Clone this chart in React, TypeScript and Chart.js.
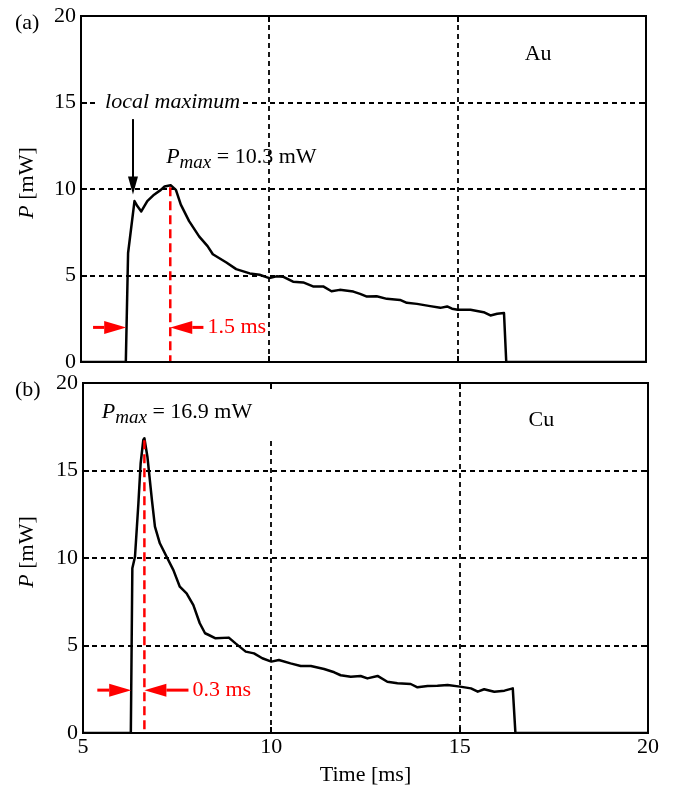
import React, { useEffect, useRef } from "react";
import { Chart, registerables } from "chart.js";

Chart.register(...registerables);

// ---------- data ----------
const AU_T = [5.0, 6.19, 6.25, 6.42, 6.5, 6.6, 6.76, 6.94, 7.12, 7.22, 7.38, 7.52, 7.65, 7.87, 8.14, 8.36, 8.5, 8.86, 9.12, 9.48, 9.74, 10.0, 10.19, 10.36, 10.63, 10.9, 11.16, 11.43, 11.65, 11.87, 12.23, 12.41, 12.59, 12.85, 13.12, 13.47, 13.65, 13.92, 14.27, 14.54, 14.72, 14.85, 15.0, 15.34, 15.69, 15.87, 16.05, 16.23, 16.29, 20.0];
const AU_P = [0, 0, 6.3, 9.3, 9.0, 8.7, 9.3, 9.67, 9.95, 10.15, 10.22, 9.95, 9.1, 8.14, 7.25, 6.7, 6.23, 5.75, 5.37, 5.12, 5.04, 4.85, 4.95, 4.93, 4.64, 4.6, 4.37, 4.37, 4.09, 4.17, 4.07, 3.94, 3.78, 3.8, 3.65, 3.59, 3.42, 3.36, 3.23, 3.13, 3.21, 3.08, 3.02, 3.02, 2.88, 2.69, 2.79, 2.83, 0, 0];

const CU_T = [5.0, 6.27, 6.31, 6.38, 6.47, 6.53, 6.6, 6.63, 6.71, 6.83, 6.91, 7.04, 7.22, 7.4, 7.57, 7.75, 7.93, 8.1, 8.24, 8.34, 8.52, 8.87, 9.05, 9.32, 9.54, 9.76, 10.0, 10.2, 10.51, 10.78, 11.05, 11.4, 11.67, 11.84, 12.11, 12.37, 12.55, 12.82, 13.08, 13.35, 13.7, 13.88, 14.15, 14.41, 14.68, 15.01, 15.3, 15.48, 15.65, 15.92, 16.19, 16.41, 16.48, 20.0];
const CU_P = [0, 0, 9.41, 10.07, 13.1, 15.4, 16.74, 16.84, 15.79, 13.31, 11.79, 10.84, 10.07, 9.31, 8.36, 7.98, 7.31, 6.27, 5.7, 5.6, 5.41, 5.45, 5.12, 4.65, 4.55, 4.27, 4.08, 4.17, 3.98, 3.83, 3.83, 3.66, 3.47, 3.3, 3.22, 3.26, 3.12, 3.26, 2.93, 2.84, 2.8, 2.61, 2.69, 2.7, 2.74, 2.65, 2.55, 2.36, 2.5, 2.36, 2.42, 2.55, 0, 0];

const X_TICKS = [5, 10, 15, 20];
const Y_TICKS = [0, 5, 10, 15, 20];
const X_GRID = [10, 15];
const Y_GRID = [5, 10, 15];

const Y_TITLE_ITALIC = "P";
const Y_TITLE_REST = " [mW]";
const X_TITLE = "Time [ms]";

// annotations (data units)
const AU_PANEL = {
  tag: "(a)",
  metal: "Au",
  metalAt: [16.78, 17.8],
  pmaxValue: "10.3 mW",
  pmaxAt: [7.26, 11.48],
  peakT: 7.37,
  peakP: 10.22,
  onsetT: 6.2,
  arrowP: 2.0,
  leftTailT: 5.32,
  rightTailT: 8.25,
  gapLabel: "1.5 ms",
  localMax: { text: "local maximum", textT: 5.64, textP: 15, arrowT: 6.38, fromP: 14.04, toP: 9.68 },
  gridGap: null as null | { x: number; fromP: number },
};

const CU_PANEL = {
  tag: "(b)",
  metal: "Cu",
  metalAt: [16.83, 17.89],
  pmaxValue: "16.9 mW",
  pmaxAt: [5.5, 18.0],
  peakT: 6.63,
  peakP: 16.84,
  onsetT: 6.28,
  arrowP: 2.45,
  leftTailT: 5.38,
  rightTailT: 7.8,
  gapLabel: "0.3 ms",
  localMax: null as null | { text: string; textT: number; textP: number; arrowT: number; fromP: number; toP: number },
  gridGap: { x: 10, fromP: 16.69 },
};

const FAMILY = '"Liberation Serif", "Times New Roman", serif';
const RED = "#ff0000";

function font(size: number, italic = false) {
  return `${italic ? "italic " : ""}${size}px ${FAMILY}`;
}

function hArrow(ctx: CanvasRenderingContext2D, tailX: number, tipX: number, y: number) {
  const dir = Math.sign(tipX - tailX);
  const headLen = 22;
  const half = 6.5;
  ctx.save();
  ctx.strokeStyle = RED;
  ctx.fillStyle = RED;
  ctx.lineWidth = 3;
  ctx.beginPath();
  ctx.moveTo(tailX, y);
  ctx.lineTo(tipX - dir * headLen, y);
  ctx.stroke();
  ctx.beginPath();
  ctx.moveTo(tipX, y);
  ctx.lineTo(tipX - dir * headLen, y - half);
  ctx.lineTo(tipX - dir * headLen, y + half);
  ctx.closePath();
  ctx.fill();
  ctx.restore();
}

function makePlugin(panel: typeof AU_PANEL, isBottom: boolean) {
  return {
    id: "decor",
    beforeDatasetsDraw(chart: any) {
      const ctx: CanvasRenderingContext2D = chart.ctx;
      const xs = chart.scales.x;
      const ys = chart.scales.y;
      const { left, right, top, bottom } = chart.chartArea;
      ctx.save();
      ctx.strokeStyle = "#000";
      ctx.lineWidth = 1.8;
      ctx.setLineDash([5, 4]);
      for (const v of Y_GRID) {
        const y = Math.round(ys.getPixelForValue(v));
        ctx.beginPath();
        ctx.moveTo(left, y);
        ctx.lineTo(right, y);
        ctx.stroke();
      }
      for (const v of X_GRID) {
        const x = Math.round(xs.getPixelForValue(v));
        let y0 = top;
        if (panel.gridGap && panel.gridGap.x === v) y0 = ys.getPixelForValue(panel.gridGap.fromP);
        ctx.beginPath();
        ctx.moveTo(x, y0);
        ctx.lineTo(x, bottom);
        ctx.stroke();
      }
      ctx.setLineDash([]);
      // white background behind "local maximum"
      if (panel.localMax) {
        ctx.font = font(22, true);
        const w = ctx.measureText(panel.localMax.text).width;
        const tx = xs.getPixelForValue(panel.localMax.textT);
        const ty = ys.getPixelForValue(panel.localMax.textP);
        ctx.fillStyle = "#fff";
        ctx.fillRect(tx - 8, ty - 6, w + 10, 12);
      }
      ctx.restore();
    },
    afterDatasetsDraw(chart: any) {
      const ctx: CanvasRenderingContext2D = chart.ctx;
      const xs = chart.scales.x;
      const ys = chart.scales.y;
      const { left, right, top, bottom } = chart.chartArea;
      ctx.save();

      // red dashed line at the peak
      const px = xs.getPixelForValue(panel.peakT);
      ctx.strokeStyle = RED;
      ctx.lineWidth = 2.5;
      ctx.setLineDash([9, 5]);
      ctx.beginPath();
      ctx.moveTo(px, ys.getPixelForValue(panel.peakP) + 2);
      ctx.lineTo(px, bottom);
      ctx.stroke();
      ctx.setLineDash([]);

      // red arrows
      const ay = ys.getPixelForValue(panel.arrowP);
      hArrow(ctx, xs.getPixelForValue(panel.leftTailT), xs.getPixelForValue(panel.onsetT), ay);
      const rTail = xs.getPixelForValue(panel.rightTailT);
      hArrow(ctx, rTail, px, ay);
      ctx.fillStyle = RED;
      ctx.font = font(22);
      ctx.textBaseline = "middle";
      ctx.textAlign = "left";
      ctx.fillText(panel.gapLabel, rTail + 4, ay);

      // frame
      ctx.strokeStyle = "#000";
      ctx.lineWidth = 2;
      ctx.strokeRect(left, top, right - left, bottom - top);
      // inward ticks
      const tl = 6;
      ctx.beginPath();
      for (const v of Y_GRID) {
        const y = Math.round(ys.getPixelForValue(v));
        ctx.moveTo(left, y);
        ctx.lineTo(left + tl, y);
        ctx.moveTo(right, y);
        ctx.lineTo(right - tl, y);
      }
      for (const v of X_GRID) {
        const x = Math.round(xs.getPixelForValue(v));
        ctx.moveTo(x, bottom);
        ctx.lineTo(x, bottom - tl);
        ctx.moveTo(x, top);
        ctx.lineTo(x, top + tl);
      }
      ctx.stroke();

      ctx.fillStyle = "#000";
      ctx.textBaseline = "middle";
      // local maximum annotation
      if (panel.localMax) {
        const lm = panel.localMax;
        ctx.font = font(22, true);
        ctx.fillText(lm.text, xs.getPixelForValue(lm.textT), ys.getPixelForValue(lm.textP));
        const ax = xs.getPixelForValue(lm.arrowT);
        const y1 = ys.getPixelForValue(lm.fromP);
        const y2 = ys.getPixelForValue(lm.toP);
        ctx.lineWidth = 2;
        ctx.beginPath();
        ctx.moveTo(ax, y1);
        ctx.lineTo(ax, y2 - 16);
        ctx.stroke();
        ctx.beginPath();
        ctx.moveTo(ax, y2);
        ctx.lineTo(ax - 5, y2 - 18);
        ctx.lineTo(ax + 5, y2 - 18);
        ctx.closePath();
        ctx.fill();
      }

      // P_max label
      {
        let x = xs.getPixelForValue(panel.pmaxAt[0]);
        const base = ys.getPixelForValue(panel.pmaxAt[1]);
        ctx.textBaseline = "alphabetic";
        ctx.font = font(22, true);
        ctx.fillText("P", x, base);
        x += ctx.measureText("P").width;
        ctx.font = font(19, true);
        ctx.fillText("max", x, base + 5);
        x += ctx.measureText("max").width;
        ctx.font = font(22);
        ctx.fillText(" = " + panel.pmaxValue, x, base);
      }

      // metal label
      ctx.textBaseline = "middle";
      ctx.font = font(22);
      ctx.fillText(panel.metal, xs.getPixelForValue(panel.metalAt[0]), ys.getPixelForValue(panel.metalAt[1]));

      // panel tag
      ctx.fillText(panel.tag, 15, top + 7);

      // y title
      {
        const midY = (top + bottom) / 2 - 6;
        ctx.save();
        ctx.translate(27, midY);
        ctx.rotate(-Math.PI / 2);
        ctx.font = font(22, true);
        const w1 = ctx.measureText(Y_TITLE_ITALIC).width;
        ctx.font = font(22);
        const w2 = ctx.measureText(Y_TITLE_REST).width;
        const sx = -(w1 + w2) / 2;
        ctx.font = font(22, true);
        ctx.fillText(Y_TITLE_ITALIC, sx, 0);
        ctx.font = font(22);
        ctx.fillText(Y_TITLE_REST, sx + w1, 0);
        ctx.restore();
      }

      if (isBottom) {
        ctx.textAlign = "center";
        ctx.font = font(22);
        ctx.fillText(X_TITLE, (left + right) / 2, bottom + 42);
      }
      ctx.restore();
    },
  };
}

function buildConfig(t: number[], p: number[], panel: typeof AU_PANEL, isBottom: boolean, pad: { top: number; right: number }, yWidth: number, xHeight: number) {
  return {
    type: "line" as const,
    data: {
      datasets: [
        {
          data: t.map((x, i) => ({ x, y: p[i] })),
          borderColor: "#000",
          borderWidth: 2.5,
          pointRadius: 0,
          tension: 0,
          borderJoinStyle: "round" as const,
          fill: false,
        },
      ],
    },
    options: {
      animation: false as const,
      responsive: false,
      maintainAspectRatio: false,
      layout: { padding: { top: pad.top, right: pad.right, left: 0, bottom: 0 } },
      plugins: { legend: { display: false }, tooltip: { enabled: false } },
      scales: {
        x: {
          type: "linear" as const,
          min: X_TICKS[0],
          max: X_TICKS[X_TICKS.length - 1],
          grid: { display: false, drawTicks: false },
          border: { display: false },
          afterBuildTicks: (s: any) => {
            s.ticks = X_TICKS.map((v) => ({ value: v }));
          },
          ticks: {
            display: isBottom,
            padding: 3,
            color: "#000",
            maxRotation: 0,
            autoSkip: false,
            font: { family: FAMILY, size: 22, lineHeight: 1 },
          },
          afterFit: (s: any) => {
            s.height = xHeight;
          },
        },
        y: {
          type: "linear" as const,
          min: Y_TICKS[0],
          max: Y_TICKS[Y_TICKS.length - 1],
          grid: { display: false, drawTicks: false },
          border: { display: false },
          afterBuildTicks: (s: any) => {
            s.ticks = Y_TICKS.map((v) => ({ value: v }));
          },
          ticks: {
            padding: 5,
            color: "#000",
            autoSkip: false,
            font: { family: FAMILY, size: 22, lineHeight: 1 },
          },
          afterFit: (s: any) => {
            s.width = yWidth;
          },
        },
      },
    },
    plugins: [makePlugin(panel, isBottom)],
  };
}

export default function App() {
  const topRef = useRef<HTMLCanvasElement>(null);
  const botRef = useRef<HTMLCanvasElement>(null);

  useEffect(() => {
    const c1 = new Chart(topRef.current!, buildConfig(AU_T, AU_P, AU_PANEL, false, { top: 13, right: 28 }, 81, 16) as any);
    const c2 = new Chart(botRef.current!, buildConfig(CU_T, CU_P, CU_PANEL, true, { top: 17, right: 26 }, 83, 56) as any);
    return () => {
      c1.destroy();
      c2.destroy();
    };
  }, []);

  return (
    <div>
      <canvas
        ref={topRef}
        width={674}
        height={378}
        style={{ position: "absolute", left: 0, top: 0, width: 674, height: 378 }}
      />
      <canvas
        ref={botRef}
        width={674}
        height={423}
        style={{ position: "absolute", left: 0, top: 366, width: 674, height: 423 }}
      />
    </div>
  );
}
